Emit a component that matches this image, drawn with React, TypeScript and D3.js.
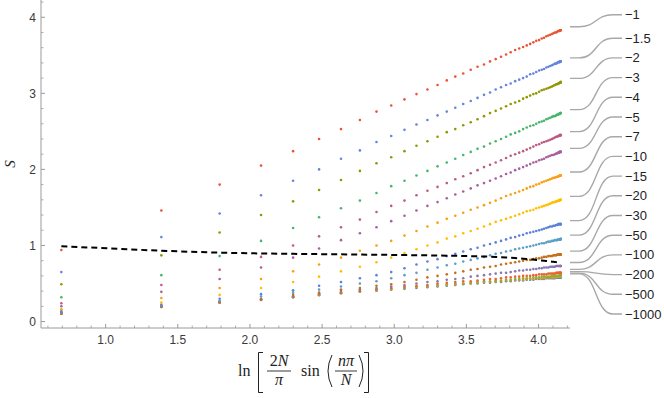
import React, { useEffect, useRef } from "react";
import * as d3 from "d3";

// x = ln[2N/pi sin(n pi/N)], n = 1..50
const xValues = [0.693, 1.386, 1.790, 2.077, 2.299, 2.479, 2.631, 2.762, 2.877, 2.979, 3.071, 3.154, 3.230, 3.300, 3.364, 3.423, 3.478, 3.530, 3.577, 3.622, 3.664, 3.703, 3.740, 3.775, 3.807, 3.838, 3.866, 3.893, 3.918, 3.942, 3.964, 3.984, 4.004, 4.022, 4.038, 4.054, 4.068, 4.081, 4.093, 4.103, 4.113, 4.122, 4.129, 4.136, 4.141, 4.146, 4.149, 4.152, 4.153, 4.154];

const sM1 = [0.94, 1.46, 1.80, 2.05, 2.24, 2.40, 2.53, 2.65, 2.76, 2.84, 2.92, 2.99, 3.05, 3.11, 3.17, 3.22, 3.26, 3.31, 3.35, 3.38, 3.42, 3.45, 3.48, 3.51, 3.54, 3.57, 3.59, 3.61, 3.63, 3.65, 3.67, 3.69, 3.70, 3.72, 3.73, 3.75, 3.76, 3.77, 3.78, 3.79, 3.80, 3.80, 3.81, 3.82, 3.82, 3.82, 3.83, 3.83, 3.83, 3.83];
const sM1_5 = [0.65, 1.11, 1.42, 1.66, 1.85, 2.00, 2.14, 2.25, 2.36, 2.44, 2.52, 2.59, 2.65, 2.71, 2.76, 2.81, 2.86, 2.90, 2.94, 2.98, 3.01, 3.05, 3.08, 3.11, 3.13, 3.16, 3.18, 3.20, 3.22, 3.25, 3.26, 3.28, 3.30, 3.31, 3.32, 3.34, 3.35, 3.36, 3.37, 3.38, 3.39, 3.39, 3.40, 3.41, 3.41, 3.41, 3.42, 3.42, 3.42, 3.42];
const sM2 = [0.49, 0.87, 1.17, 1.40, 1.58, 1.73, 1.86, 1.98, 2.08, 2.16, 2.24, 2.31, 2.37, 2.43, 2.49, 2.53, 2.58, 2.62, 2.66, 2.70, 2.74, 2.77, 2.80, 2.83, 2.86, 2.88, 2.90, 2.93, 2.95, 2.97, 2.99, 3.00, 3.02, 3.04, 3.05, 3.06, 3.07, 3.08, 3.09, 3.10, 3.11, 3.12, 3.12, 3.13, 3.13, 3.14, 3.14, 3.14, 3.14, 3.15];
const sM3 = [0.32, 0.61, 0.86, 1.06, 1.23, 1.37, 1.49, 1.59, 1.69, 1.78, 1.85, 1.92, 1.98, 2.04, 2.09, 2.14, 2.19, 2.23, 2.27, 2.30, 2.34, 2.37, 2.40, 2.43, 2.46, 2.48, 2.50, 2.53, 2.55, 2.57, 2.58, 2.60, 2.62, 2.63, 2.64, 2.66, 2.67, 2.68, 2.69, 2.70, 2.70, 2.71, 2.72, 2.72, 2.73, 2.73, 2.73, 2.74, 2.74, 2.74];
const sM4 = [0.24, 0.48, 0.68, 0.85, 1.00, 1.12, 1.24, 1.34, 1.44, 1.52, 1.59, 1.66, 1.72, 1.77, 1.82, 1.87, 1.91, 1.95, 1.99, 2.03, 2.06, 2.09, 2.12, 2.15, 2.18, 2.20, 2.22, 2.24, 2.26, 2.28, 2.30, 2.32, 2.33, 2.35, 2.36, 2.37, 2.38, 2.39, 2.40, 2.41, 2.42, 2.43, 2.43, 2.44, 2.44, 2.45, 2.45, 2.45, 2.45, 2.45];
const sM5 = [0.20, 0.39, 0.56, 0.71, 0.84, 0.96, 1.07, 1.16, 1.24, 1.32, 1.39, 1.46, 1.52, 1.57, 1.62, 1.67, 1.71, 1.75, 1.79, 1.82, 1.85, 1.88, 1.91, 1.94, 1.96, 1.99, 2.01, 2.03, 2.05, 2.07, 2.09, 2.10, 2.12, 2.13, 2.14, 2.16, 2.17, 2.18, 2.19, 2.19, 2.20, 2.21, 2.21, 2.22, 2.22, 2.23, 2.23, 2.23, 2.23, 2.23];
const sM7 = [0.16, 0.31, 0.44, 0.56, 0.66, 0.75, 0.84, 0.93, 1.00, 1.06, 1.13, 1.19, 1.25, 1.30, 1.35, 1.39, 1.43, 1.47, 1.50, 1.53, 1.56, 1.59, 1.62, 1.65, 1.67, 1.69, 1.71, 1.73, 1.75, 1.77, 1.78, 1.80, 1.81, 1.83, 1.84, 1.85, 1.86, 1.87, 1.88, 1.89, 1.89, 1.90, 1.90, 1.91, 1.91, 1.92, 1.92, 1.92, 1.92, 1.92];
const sM10 = [0.15, 0.25, 0.35, 0.44, 0.52, 0.59, 0.66, 0.72, 0.78, 0.84, 0.90, 0.95, 1.00, 1.04, 1.09, 1.12, 1.16, 1.19, 1.22, 1.25, 1.28, 1.31, 1.33, 1.35, 1.37, 1.39, 1.41, 1.43, 1.45, 1.46, 1.47, 1.49, 1.50, 1.51, 1.52, 1.53, 1.54, 1.55, 1.56, 1.57, 1.57, 1.58, 1.58, 1.59, 1.59, 1.59, 1.60, 1.60, 1.60, 1.60];
const sM15 = [0.13, 0.22, 0.30, 0.36, 0.41, 0.47, 0.52, 0.57, 0.61, 0.65, 0.70, 0.75, 0.79, 0.82, 0.86, 0.89, 0.92, 0.95, 0.97, 1.00, 1.02, 1.04, 1.06, 1.08, 1.10, 1.11, 1.13, 1.14, 1.16, 1.17, 1.18, 1.19, 1.20, 1.21, 1.22, 1.23, 1.24, 1.25, 1.25, 1.26, 1.26, 1.27, 1.27, 1.28, 1.28, 1.28, 1.28, 1.28, 1.28, 1.28];
const sM20 = [0.12, 0.21, 0.27, 0.33, 0.38, 0.42, 0.46, 0.50, 0.53, 0.57, 0.61, 0.64, 0.68, 0.71, 0.74, 0.76, 0.79, 0.81, 0.83, 0.85, 0.87, 0.89, 0.90, 0.92, 0.93, 0.95, 0.96, 0.97, 0.98, 0.99, 1.00, 1.01, 1.02, 1.03, 1.03, 1.04, 1.05, 1.05, 1.06, 1.06, 1.07, 1.07, 1.07, 1.08, 1.08, 1.08, 1.08, 1.08, 1.08, 1.09];
const sM30 = [0.11, 0.20, 0.26, 0.30, 0.35, 0.38, 0.42, 0.44, 0.47, 0.49, 0.52, 0.55, 0.58, 0.60, 0.62, 0.64, 0.66, 0.68, 0.69, 0.71, 0.72, 0.73, 0.75, 0.76, 0.77, 0.78, 0.79, 0.80, 0.81, 0.81, 0.82, 0.83, 0.83, 0.84, 0.85, 0.85, 0.86, 0.86, 0.86, 0.87, 0.87, 0.87, 0.88, 0.88, 0.88, 0.88, 0.88, 0.88, 0.88, 0.88];
const sM50 = [0.11, 0.20, 0.26, 0.29, 0.33, 0.37, 0.40, 0.42, 0.44, 0.46, 0.48, 0.50, 0.52, 0.53, 0.55, 0.56, 0.57, 0.59, 0.60, 0.61, 0.62, 0.63, 0.64, 0.64, 0.65, 0.66, 0.67, 0.67, 0.68, 0.68, 0.69, 0.69, 0.70, 0.70, 0.71, 0.71, 0.71, 0.72, 0.72, 0.72, 0.72, 0.73, 0.73, 0.73, 0.73, 0.73, 0.73, 0.73, 0.73, 0.73];
const sM100 = [0.107, 0.195, 0.252, 0.288, 0.326, 0.358, 0.383, 0.405, 0.424, 0.442, 0.46, 0.47, 0.48, 0.50, 0.51, 0.52, 0.53, 0.53, 0.54, 0.55, 0.56, 0.56, 0.57, 0.58, 0.58, 0.59, 0.59, 0.60, 0.60, 0.60, 0.61, 0.61, 0.62, 0.62, 0.62, 0.62, 0.63, 0.63, 0.63, 0.63, 0.63, 0.64, 0.64, 0.64, 0.64, 0.64, 0.64, 0.64, 0.64, 0.64];
const sM200 = [0.105, 0.193, 0.25, 0.286, 0.322, 0.352, 0.376, 0.398, 0.415, 0.43, 0.44, 0.46, 0.47, 0.48, 0.49, 0.50, 0.50, 0.51, 0.52, 0.53, 0.53, 0.54, 0.54, 0.55, 0.55, 0.56, 0.56, 0.57, 0.57, 0.57, 0.58, 0.58, 0.58, 0.59, 0.59, 0.59, 0.59, 0.59, 0.60, 0.60, 0.60, 0.60, 0.60, 0.60, 0.60, 0.60, 0.60, 0.61, 0.61, 0.61];
const sM500 = [0.104, 0.192, 0.249, 0.285, 0.32, 0.349, 0.373, 0.394, 0.41, 0.425, 0.44, 0.45, 0.46, 0.47, 0.48, 0.49, 0.50, 0.50, 0.51, 0.52, 0.52, 0.53, 0.53, 0.54, 0.54, 0.55, 0.55, 0.55, 0.56, 0.56, 0.56, 0.57, 0.57, 0.57, 0.57, 0.58, 0.58, 0.58, 0.58, 0.58, 0.58, 0.59, 0.59, 0.59, 0.59, 0.59, 0.59, 0.59, 0.59, 0.59];
const sM1000 = [0.103, 0.191, 0.248, 0.284, 0.318, 0.347, 0.371, 0.391, 0.406, 0.42, 0.43, 0.44, 0.45, 0.46, 0.47, 0.48, 0.49, 0.50, 0.50, 0.51, 0.51, 0.52, 0.52, 0.53, 0.53, 0.54, 0.54, 0.54, 0.55, 0.55, 0.55, 0.56, 0.56, 0.56, 0.56, 0.57, 0.57, 0.57, 0.57, 0.57, 0.57, 0.58, 0.58, 0.58, 0.58, 0.58, 0.58, 0.58, 0.58, 0.58];

// black dashed reference curve
const refCurve = [0.99, 0.93, 0.905, 0.895, 0.89, 0.886, 0.883, 0.88, 0.878, 0.876, 0.874, 0.872, 0.87, 0.868, 0.866, 0.864, 0.862, 0.86, 0.858, 0.855, 0.852, 0.849, 0.846, 0.842, 0.838, 0.834, 0.83, 0.826, 0.822, 0.818, 0.814, 0.81, 0.806, 0.802, 0.799, 0.796, 0.793, 0.79, 0.787, 0.785, 0.783, 0.781, 0.779, 0.777, 0.776, 0.775, 0.774, 0.773, 0.772, 0.772];

// callout labels, top to bottom
const labels = ["-1", "-1.5", "-2", "-3", "-4", "-5", "-7", "-10", "-15", "-20", "-30", "-50", "-100", "-200", "-500", "-1000"];
const seriesValues = [sM1, sM1_5, sM2, sM3, sM4, sM5, sM7, sM10, sM15, sM20, sM30, sM50, sM100, sM200, sM500, sM1000];
const colors = ["#e95536", "#6685d9", "#929600", "#47b66d", "#bc5c80", "#a5609d", "#f89f13", "#ffbf00", "#5b82d6", "#5d9ec7", "#c56e1a", "#8778b3", "#eb6235", "#8fb032", "#e19c24", "#5e81b5"];
// plotting order (Mathematica list order)
const drawOrder = ["-1000", "-500", "-200", "-100", "-50", "-30", "-20", "-10", "-5", "-2", "-1", "-1.5", "-7", "-4", "-3", "-15"];

const xTicks = [1.0, 1.5, 2.0, 2.5, 3.0, 3.5, 4.0];
const yTicks = [0, 1, 2, 3, 4];

const W = 664;
const H = 398;

const App = () => {
  const svgRef = useRef(null);

  useEffect(() => {
    const svg = d3.select(svgRef.current);
    svg.selectAll("*").remove();

    const x = d3.scaleLinear().domain([0.552, 4.218]).range([41, 570]);
    const y = d3.scaleLinear().domain([-0.085, 4.227]).range([328, 0]);

    const axisColor = "#9a9a9a";
    const sans = "'Liberation Sans', Arial, sans-serif";
    const serif = "'Liberation Serif', 'Times New Roman', serif";
    const ink = "#222";

    // axes
    const ax = svg.append("g");
    ax.append("line").attr("x1", 41).attr("x2", 570).attr("y1", 328).attr("y2", 328)
      .attr("stroke", axisColor).attr("stroke-width", 1);
    ax.append("line").attr("x1", 41).attr("x2", 41).attr("y1", 0).attr("y2", 328)
      .attr("stroke", axisColor).attr("stroke-width", 1);

    // x ticks (major + minor every 0.1)
    d3.range(6, 43).map(i => i / 10).forEach(v => {
      const major = Math.abs(v * 2 - Math.round(v * 2)) < 1e-6;
      ax.append("line").attr("x1", x(v)).attr("x2", x(v))
        .attr("y1", 328).attr("y2", 328 - (major ? 4 : 2.5))
        .attr("stroke", axisColor).attr("stroke-width", major ? 1 : 0.8);
    });
    xTicks.forEach(v => {
      ax.append("text").attr("x", x(v)).attr("y", 343.5)
        .attr("text-anchor", "middle").attr("font-family", sans).attr("font-size", 12)
        .attr("fill", "#3a3a3a").text(v.toFixed(1));
    });

    // y ticks (major + minor every 0.2)
    d3.range(0, 22).map(i => i / 5).forEach(v => {
      const major = Math.abs(v - Math.round(v)) < 1e-6;
      ax.append("line").attr("x1", 41).attr("x2", 41 + (major ? 4 : 2.5))
        .attr("y1", y(v)).attr("y2", y(v))
        .attr("stroke", axisColor).attr("stroke-width", major ? 1 : 0.8);
    });
    yTicks.forEach(v => {
      ax.append("text").attr("x", 36).attr("y", y(v) + 4.3)
        .attr("text-anchor", "end").attr("font-family", sans).attr("font-size", 12)
        .attr("fill", "#3a3a3a").text(v);
    });

    // y label
    svg.append("text").attr("transform", "translate(15,164) rotate(-90)")
      .attr("text-anchor", "middle").attr("font-family", serif).attr("font-style", "italic")
      .attr("font-size", 15).attr("fill", ink).text("S");

    // x label: ln[ 2N/pi sin( n pi / N ) ]
    const xl = svg.append("g").attr("font-family", serif).attr("font-size", 16).attr("fill", ink);
    const stroke = (sel) => sel.attr("fill", "none").attr("stroke", ink).attr("stroke-width", 1);
    xl.append("text").attr("x", 238).attr("y", 376).text("ln");
    // [
    stroke(xl.append("path").attr("d", "M263,352.5 H258.5 V392.5 H263"));
    xl.append("text").attr("x", 279).attr("y", 366).attr("text-anchor", "middle")
      .html("2<tspan font-style='italic'>N</tspan>");
    xl.append("line").attr("x1", 267).attr("x2", 291).attr("y1", 371).attr("y2", 371)
      .attr("stroke", ink).attr("stroke-width", 0.9);
    xl.append("text").attr("x", 279).attr("y", 385).attr("text-anchor", "middle")
      .attr("font-style", "italic").text("π");
    xl.append("text").attr("x", 301).attr("y", 376).text("sin");
    // (
    stroke(xl.append("path").attr("d", "M332,355 Q324,371 332,387"));
    xl.append("text").attr("x", 346).attr("y", 366).attr("text-anchor", "middle")
      .attr("font-style", "italic").text("nπ");
    xl.append("line").attr("x1", 335).attr("x2", 357).attr("y1", 371).attr("y2", 371)
      .attr("stroke", ink).attr("stroke-width", 0.9);
    xl.append("text").attr("x", 346).attr("y", 385).attr("text-anchor", "middle")
      .attr("font-style", "italic").text("N");
    // )
    stroke(xl.append("path").attr("d", "M359,355 Q367,371 359,387"));
    // ]
    stroke(xl.append("path").attr("d", "M364,352.5 H368.5 V392.5 H364"));

    // points
    const pts = svg.append("g");
    drawOrder.forEach(lab => {
      const i = labels.indexOf(lab);
      pts.selectAll(null)
        .data(seriesValues[i].map((v, k) => [xValues[k], v]))
        .enter()
        .append("circle")
        .attr("cx", d => x(d[0]))
        .attr("cy", d => y(d[1]))
        .attr("r", 1.3)
        .attr("fill", colors[i]);
    });

    // dashed curve
    const line = d3.line().x((d, k) => x(xValues[k])).y(d => y(d));
    svg.append("path").datum(refCurve)
      .attr("fill", "none").attr("stroke", "#000").attr("stroke-width", 2)
      .attr("stroke-dasharray", "6,4").attr("d", line);

    // callouts: labels stacked from the bottom, the top one sits above its curve
    const ends = seriesValues.map(s => y(s[s.length - 1]) - 3.5);
    const gap = 19.7;
    const labelY = labels.map((_, i) => {
      const stacked = 314 - (labels.length - 1 - i) * gap;
      return i === 0 ? Math.min(stacked, ends[i] - 12) : stacked;
    });
    const co = svg.append("g");
    labels.forEach((lab, i) => {
      const y0 = ends[i];
      const y1 = labelY[i];
      co.append("path")
        .attr("d", `M570,${y0} H579 C597,${y0} 595,${y1} 613,${y1} H622`)
        .attr("fill", "none").attr("stroke", "#a8a8a8").attr("stroke-width", 1.4);
      co.append("text").attr("x", 625).attr("y", y1 + 4.5)
        .attr("font-family", sans).attr("font-size", 13).attr("fill", ink)
        .text(lab.replace("-", "\u2212"));
    });
  }, []);

  return (
    <svg ref={svgRef} width={W} height={H}
      style={{ position: "absolute", left: 0, top: 0, background: "#fff" }} />
  );
};

export default App;
